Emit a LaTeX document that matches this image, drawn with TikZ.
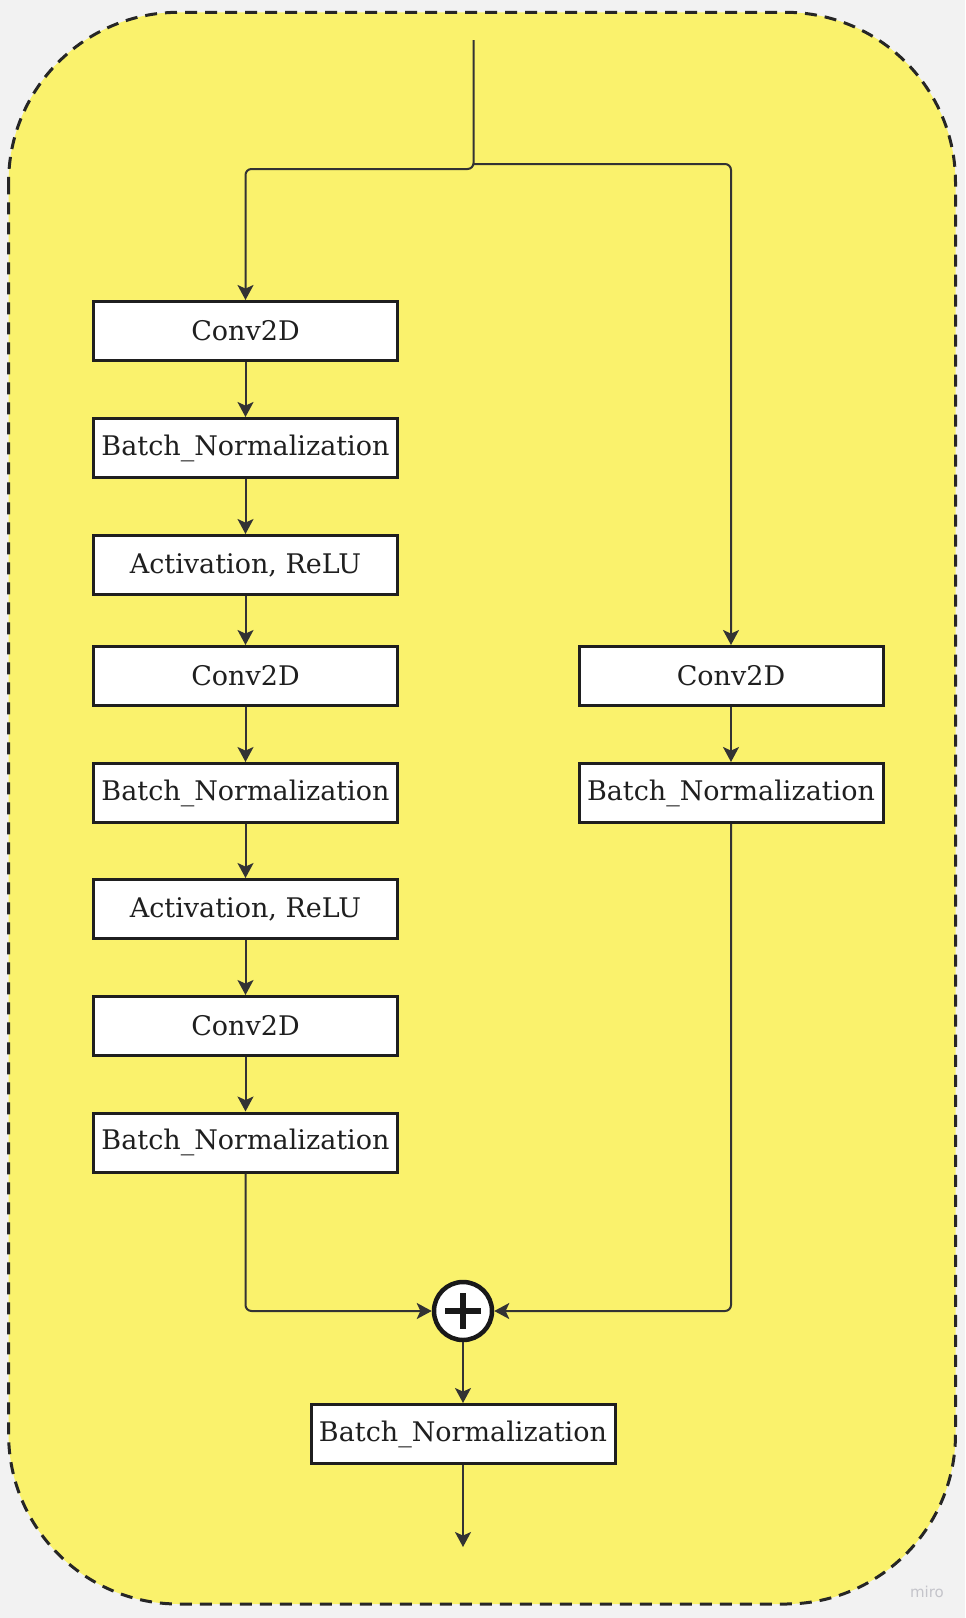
\documentclass[tikz,border=0pt]{standalone}
\usepackage{fontspec}
\setmainfont{DejaVu Serif}
\newfontfamily\markfont{DejaVu Sans}
\usetikzlibrary{arrows.meta}

\definecolor{boardyellow}{RGB}{250,242,108}
\definecolor{pagegray}{RGB}{242,242,242}
\definecolor{linegray}{RGB}{51,51,51}
\definecolor{markgray}{RGB}{196,196,202}

\begin{document}
\begin{tikzpicture}[x=0.5pt,y=-0.5pt,
    layer/.style={draw=black!88,line width=1.5pt,fill=white,text=black!88,minimum width=152pt,minimum height=29.5pt,inner sep=0pt,font=\fontsize{13.5}{16}\selectfont},
    link/.style={draw=linegray,line width=1pt,rounded corners=3pt,-{Stealth[length=7.5pt,width=8pt,inset=1.8pt]}}]
    \pgfmathsetmacro{\leftx}{245.5}
    \pgfmathsetmacro{\rightx}{731}
    \pgfmathsetmacro{\midx}{463}
    \pgfmathsetmacro{\forkx}{473.5}
    \fill[pagegray] (0,0) rectangle (965,1618);
    \draw[draw=black!85,fill=boardyellow,line width=1.5pt,dash pattern=on 6pt off 4pt,rounded corners=85pt] (8.6,12.3) rectangle (955.5,1604);
    % main branch
    \node[layer] (conva) at (\leftx,331) {Conv2D};
    \node[layer] (bna) at (\leftx,448) {Batch\_Normalization};
    \node[layer] (acta) at (\leftx,565) {Activation, ReLU};
    \node[layer] (convb) at (\leftx,676) {Conv2D};
    \node[layer] (bnb) at (\leftx,793) {Batch\_Normalization};
    \node[layer] (actb) at (\leftx,909) {Activation, ReLU};
    \node[layer] (convc) at (\leftx,1026) {Conv2D};
    \node[layer] (bnc) at (\leftx,1142.5) {Batch\_Normalization};
    % shortcut branch
    \node[layer] (convs) at (\rightx,676) {Conv2D};
    \node[layer] (bns) at (\rightx,793) {Batch\_Normalization};
    % merge
    \node[circle,draw=black!90,line width=2.25pt,fill=white,minimum size=29pt,inner sep=0pt] (sum) at (\midx,1311) {};
    \draw[black!90,line width=3.25pt] (sum.center) ++(-18,0) -- ++(36,0);
    \draw[black!90,line width=3.25pt] (sum.center) ++(0,-18) -- ++(0,36);
    \node[layer] (bnout) at (\midx,1434) {Batch\_Normalization};
    \coordinate (input) at (\forkx,40);
    \coordinate (fork) at (\forkx,164);
    \coordinate (output) at (\midx,1547);
    \draw[link] (input) -- ++(0,129) -| (conva);
    \draw[link] (fork) -| (convs);
    \draw[link] (conva) -- (bna);
    \draw[link] (bna) -- (acta);
    \draw[link] (acta) -- (convb);
    \draw[link] (convb) -- (bnb);
    \draw[link] (bnb) -- (actb);
    \draw[link] (actb) -- (convc);
    \draw[link] (convc) -- (bnc);
    \draw[link] (convs) -- (bns);
    \draw[link] (bnc) |- (sum);
    \draw[link] (bns) |- (sum);
    \draw[link] (sum) -- (bnout);
    \draw[link] (bnout) -- (output);
    \node[text=markgray,font=\markfont\fontsize{7.5}{8}\selectfont] (miro) at (927,1592) {miro};
\end{tikzpicture}
\end{document}
